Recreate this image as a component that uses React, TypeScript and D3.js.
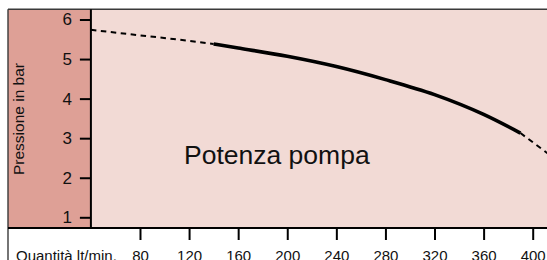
import React, { useEffect, useRef } from 'react';
import * as d3 from 'd3';

// Curva della pompa: portata (lt/min) e pressione (bar)
const flow = [40, 80, 120, 140, 160, 200, 240, 280, 320, 360, 390, 412];
const pressure = [5.74, 5.6, 5.46, 5.38, 5.28, 5.07, 4.81, 4.48, 4.1, 3.6, 3.13, 2.62];
const solidRange = [140, 390];

const xTicks = [80, 120, 160, 200, 240, 280, 320, 360, 400];
const yTicks = [1, 2, 3, 4, 5, 6];

const FONT = '"Liberation Sans", Arial, Helvetica, sans-serif';

const App = () => {
  const svgRef = useRef<SVGSVGElement>(null);
  const width = 547;
  const height = 260;

  useEffect(() => {
    const svg = d3.select(svgRef.current);
    svg.selectAll('*').remove();

    const x = d3.scaleLinear().domain([40, 400]).range([90.9, 532.7]);
    const y = d3.scaleLinear().domain([1, 6]).range([217.3, 19.5]);

    const frameLeft = 8;
    const frameTop = 9.3;
    const axisY = 228;
    const axisX = x(40);

    // Sfondi
    svg.append('rect')
      .attr('x', frameLeft).attr('y', frameTop)
      .attr('width', axisX - frameLeft).attr('height', axisY - frameTop)
      .attr('fill', '#dea096');
    svg.append('rect')
      .attr('x', axisX).attr('y', frameTop)
      .attr('width', width - axisX).attr('height', axisY - frameTop)
      .attr('fill', '#f2dad5');

    // Cornice
    svg.append('line')
      .attr('x1', frameLeft).attr('x2', width)
      .attr('y1', frameTop).attr('y2', frameTop)
      .attr('stroke', '#3a3a3a').attr('stroke-width', 1.4);
    svg.append('line')
      .attr('x1', frameLeft).attr('x2', frameLeft)
      .attr('y1', frameTop).attr('y2', height)
      .attr('stroke', '#3a3a3a').attr('stroke-width', 1.4);

    // Assi
    const yAxis = svg.append('g')
      .attr('transform', `translate(${axisX},0)`)
      .call(d3.axisLeft(y).tickValues(yTicks).tickSize(11).tickPadding(8).tickFormat(d3.format('d')));
    const xAxis = svg.append('g')
      .attr('transform', `translate(0,${axisY})`)
      .call(d3.axisBottom(x).tickValues(xTicks).tickSize(12).tickPadding(10).tickFormat(d3.format('d')));

    [yAxis, xAxis].forEach(a => {
      a.select('.domain').remove();
      a.selectAll('line').attr('stroke', '#000').attr('stroke-width', 2);
      a.selectAll('text')
        .attr('fill', '#111')
        .style('font-family', FONT);
    });
    yAxis.selectAll('text').style('font-size', '17px');
    xAxis.selectAll('text').style('font-size', '15px');

    svg.append('line')
      .attr('x1', axisX).attr('x2', axisX)
      .attr('y1', frameTop).attr('y2', axisY)
      .attr('stroke', '#000').attr('stroke-width', 2);
    svg.append('line')
      .attr('x1', frameLeft).attr('x2', width)
      .attr('y1', axisY).attr('y2', axisY)
      .attr('stroke', '#000').attr('stroke-width', 2);

    // Etichette
    svg.append('text')
      .attr('transform', `translate(24,119) rotate(-90)`)
      .attr('text-anchor', 'middle')
      .style('font-family', FONT)
      .style('font-size', '15.5px')
      .attr('fill', '#111')
      .text('Pressione in bar');

    svg.append('text')
      .attr('x', 16).attr('y', 260.7)
      .style('font-family', FONT)
      .style('font-size', '15px')
      .attr('fill', '#111')
      .text('Quantità lt/min.');

    svg.append('text')
      .attr('x', 184).attr('y', 164.3)
      .style('font-family', FONT)
      .style('font-size', '26.5px')
      .attr('fill', '#111')
      .text('Potenza pompa');

    // Curva
    const pts: [number, number][] = flow.map((f, i) => [f, pressure[i]]);
    const line = d3.line<[number, number]>()
      .x(d => x(d[0]))
      .y(d => y(d[1]))
      .curve(d3.curveMonotoneX);

    const plot = svg.append('g');
    const lead = pts.filter(d => d[0] <= solidRange[0]);
    const main = pts.filter(d => d[0] >= solidRange[0] && d[0] <= solidRange[1]);
    const tail = pts.filter(d => d[0] >= solidRange[1]);

    [lead, tail].forEach(seg => {
      plot.append('path')
        .attr('d', line(seg))
        .attr('fill', 'none')
        .attr('stroke', '#000')
        .attr('stroke-width', 2)
        .attr('stroke-dasharray', '5.5,4.5');
    });
    plot.append('path')
      .attr('d', line(main))
      .attr('fill', 'none')
      .attr('stroke', '#000')
      .attr('stroke-width', 3.6);
  }, []);

  return (
    <div style={{ position: 'fixed', left: 0, top: 0, width, height, overflow: 'hidden', background: '#fff' }}>
      <svg ref={svgRef} width={width} height={height} style={{ display: 'block' }} />
    </div>
  );
};

export default App;
